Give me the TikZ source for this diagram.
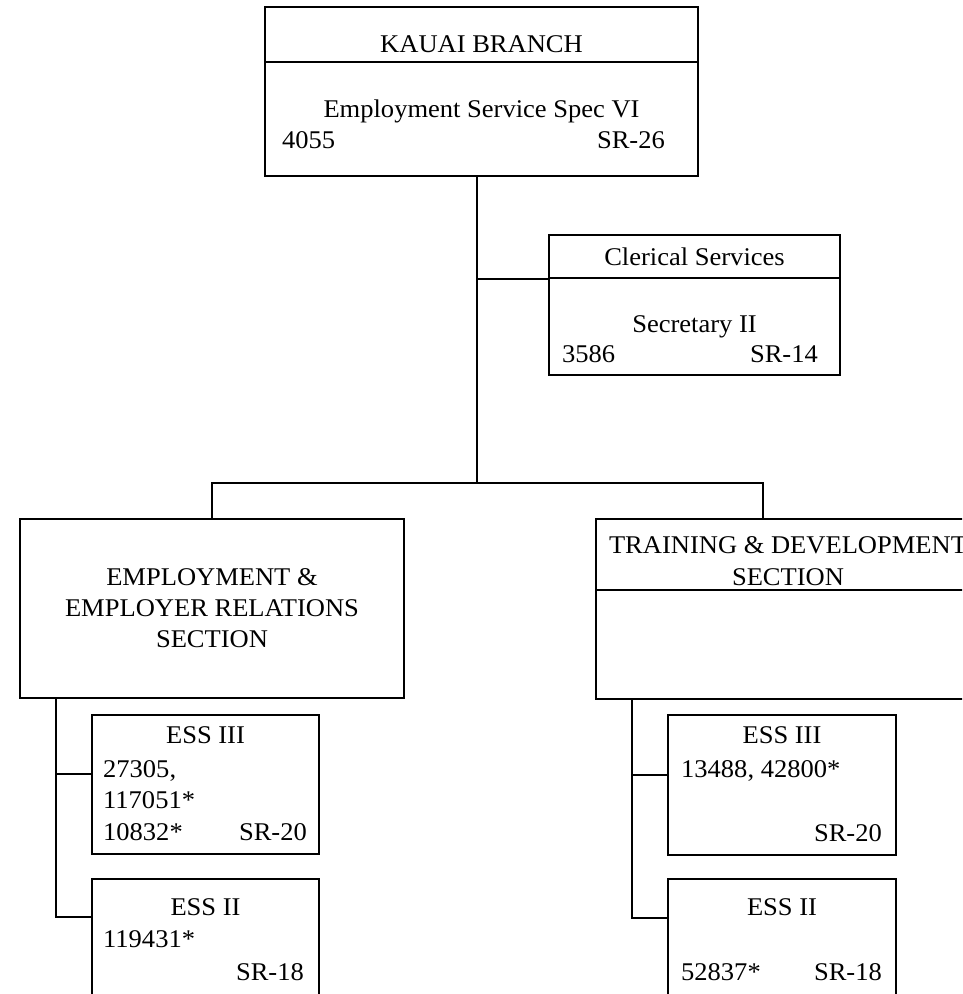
\documentclass[tikz,border=0pt]{standalone}
\usepackage{fontspec}
\setmainfont{Liberation Serif}[FakeStretch=1.04]
\begin{document}
\begin{tikzpicture}[x=1pt,y=-1pt,
  box/.style={draw, rectangle, line width=1.8pt, inner sep=0pt, outer sep=0pt},
  wire/.style={line width=1.1pt},
  rule/.style={line width=1.1pt},
  txt/.style={inner sep=0pt, font=\fontsize{25.5}{31}\selectfont},
  ]
\useasboundingbox (0,0) rectangle (962,994);
\fill[white] (0,0) rectangle (962,994);
\clip (0,0) rectangle (962,994);

% ---------- branch head ----------
\node[box, minimum width=433pt, minimum height=169pt] (branch) at (481.5,91.5) {};
\draw[rule] (branch.west |- 0,62) -- (branch.east |- 0,62);
\node[txt, anchor=base] at (481.5,52) {KAUAI BRANCH};
\node[txt, anchor=base] at (481.5,117) {Employment Service Spec VI};
\node[txt, anchor=base west] at (282,148) {4055};
\node[txt, anchor=base east] at (665,148) {SR-26};

% ---------- clerical services ----------
\node[box, minimum width=291pt, minimum height=140pt] (cler) at (694.5,305) {};
\draw[rule] (cler.west |- 0,278) -- (cler.east |- 0,278);
\node[txt, anchor=base] at (694.5,265) {Clerical Services};
\node[txt, anchor=base] at (694.5,332) {Secretary II};
\node[txt, anchor=base west] at (562,362) {3586};
\node[txt, anchor=base east] at (818,362) {SR-14};

% ---------- employment & employer relations section ----------
\node[box, minimum width=384pt, minimum height=179pt] (emp) at (212,608.5) {};
\node[txt, anchor=base] at (212,585) {EMPLOYMENT \&};
\node[txt, anchor=base] at (212,616) {EMPLOYER RELATIONS};
\node[txt, anchor=base] at (212,647) {SECTION};

% ---------- training & development section ----------
\node[box, minimum width=384pt, minimum height=180pt] (trn) at (788,609) {};
\draw[rule] (trn.west |- 0,590) -- (trn.east |- 0,590);
\node[txt, anchor=base] at (788,553) {TRAINING \& DEVELOPMENT};
\node[txt, anchor=base] at (788,585) {SECTION};

% ---------- positions under employment section ----------
\node[box, minimum width=227pt, minimum height=139pt] (lessiii) at (205.5,784.5) {};
\node[txt, anchor=base] at (205.5,743) {ESS III};
\node[txt, anchor=base west] at (103,777) {27305,};
\node[txt, anchor=base west] at (103,808) {117051*};
\node[txt, anchor=base west] at (103,840) {10832*};
\node[txt, anchor=base east] at (307,840) {SR-20};

\node[box, minimum width=227pt, minimum height=139pt] (lessii) at (205.5,948.5) {};
\node[txt, anchor=base] at (205.5,915) {ESS II};
\node[txt, anchor=base west] at (103,947) {119431*};
\node[txt, anchor=base east] at (304,980) {SR-18};

% ---------- positions under training section ----------
\node[box, minimum width=228pt, minimum height=140pt] (ressiii) at (782,785) {};
\node[txt, anchor=base] at (782,743) {ESS III};
\node[txt, anchor=base west] at (681,777) {13488, 42800*};
\node[txt, anchor=base east] at (882,841) {SR-20};

\node[box, minimum width=228pt, minimum height=140pt] (ressii) at (782,949) {};
\node[txt, anchor=base] at (782,915) {ESS II};
\node[txt, anchor=base west] at (681,980) {52837*};
\node[txt, anchor=base east] at (882,980) {SR-18};

% ---------- connectors ----------
\coordinate (trunk) at (477,483);
\coordinate (clertap) at (477,279);
\coordinate (trntap) at (763,483);
\draw[wire] (branch.south -| trunk) -- (trunk);
\draw[wire] (clertap) -- (clertap -| cler.west);
\draw[wire] (emp.north) -- (emp.north |- trunk) -- (trntap) -- (trntap |- trn.north);

\coordinate (ltapiii) at (56,774);
\coordinate (ltapii) at (56,917);
\draw[wire] (ltapii |- emp.south) -- (ltapii) -- (ltapii -| lessii.west);
\draw[wire] (ltapiii) -- (ltapiii -| lessiii.west);

\coordinate (rtapiii) at (632,775);
\coordinate (rtapii) at (632,918);
\draw[wire] (rtapii |- trn.south) -- (rtapii) -- (rtapii -| ressii.west);
\draw[wire] (rtapiii) -- (rtapiii -| ressiii.west);
\end{tikzpicture}
\end{document}
